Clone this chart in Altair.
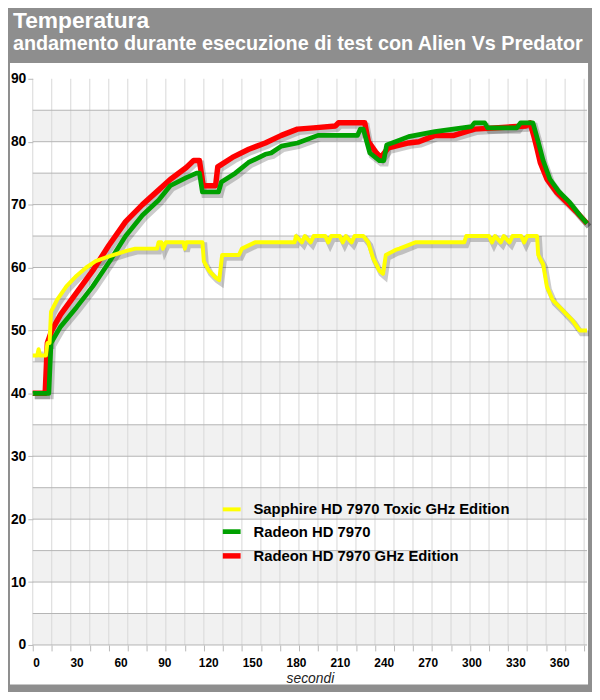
import altair as alt
import pandas as pd

S_YELLOW = "Sapphire HD 7970 Toxic GHz Edition"
S_GREEN = "Radeon HD 7970"
S_RED = "Radeon HD 7970 GHz Edition"

red_t = [0, 8.5, 10, 13, 19, 30, 41, 52, 63.5, 75, 86, 94, 105, 110, 114, 116.5, 125, 126.5,
         136.5, 147.7, 159, 170, 181, 192, 207, 209, 227, 229.5, 235, 238, 243, 248, 257, 264,
         275, 288, 302, 337, 340, 342.5, 344.7, 347, 351.5, 358, 365, 371.5, 379]
red_v = [40, 40, 48, 50, 52.5, 56, 59.5, 63.5, 67.3, 70, 72.3, 74, 75.9, 77, 77, 73, 73, 76,
         77.5, 78.8, 79.8, 81, 82, 82.2, 82.5, 83, 83, 80, 78.2, 77.5, 79, 79.3, 79.8, 80,
         81, 81, 82, 82.5, 83, 81, 79, 76.7, 74.1, 72, 70.4, 68.9, 67]

green_t = [0, 11, 12.5, 19, 30, 41, 52.6, 63.5, 75, 86, 94, 105, 112, 114, 116, 127, 129,
           138.5, 147.5, 159, 163, 170, 181, 195, 222, 224, 226, 230.5, 237, 240, 242, 248,
           257, 275, 300, 302, 309, 311, 331, 333.5, 342, 345.6, 349, 353.7, 360, 367, 374, 379]
green_v = [40, 40, 48, 50.6, 53.7, 57, 61, 65, 68.3, 70.7, 73, 74.3, 75, 75, 72, 72, 73.6,
           75, 76.7, 78, 78.2, 79.3, 79.8, 81, 81, 82, 82, 78.2, 77, 77, 79.5, 80,
           80.8, 81.6, 82.4, 83, 83, 82.2, 82.2, 83, 83, 80, 77, 74, 72, 70.4, 68.3, 67]

yellow_t = [0, 3, 4, 5, 9, 10, 11.5, 12.5, 16.5, 23, 30, 36.6, 43, 52.6, 63.5, 70, 85, 86,
            88, 89, 91, 103, 104, 105, 116, 117, 120.5, 125, 127.5, 129.5, 141, 143, 152, 179,
            180, 184, 186, 190, 192, 200, 202, 204, 210, 212, 214, 218, 220, 226, 229.4, 232.7,
            237, 239.5, 241.4, 248, 250.7, 261.6, 295, 296.4, 312, 314, 316, 320, 322, 326, 328,
            334, 336, 338, 344.8, 345.6, 349, 351.5, 355.6, 362.4, 369, 373.9, 379]
yellow_v = [46, 46, 47, 46, 46, 48, 48, 53, 54.8, 57, 58.7, 60, 61, 61.8, 62.6, 63, 63, 64,
            64, 63, 64, 64, 63, 64, 64, 61, 59.5, 58.4, 58, 62, 62, 63, 64, 64,
            65, 64, 65, 64, 65, 65, 64, 65, 65, 64, 65, 64, 65, 65, 64, 61.5,
            59.5, 59, 62, 62.8, 63, 64, 64, 65, 65, 64, 65, 64, 65, 64, 65,
            65, 64, 65, 65, 62, 60.5, 57, 54.8, 53.2, 51.6, 50, 50]

x_label_values = list(range(0, 361, 30))
x_grid_values = list(range(0, 379, 13))
y_label_values = list(range(0, 91, 10))
y_grid_values = list(range(0, 90, 5))
band_lo = list(range(0, 81, 10))

series_order = [S_YELLOW, S_GREEN, S_RED]
series_colors = ["#ffff00", "#00a000", "#ff0000"]
series_widths = [4, 5.5, 8]

W, H = 560, 572
X_MAX = 379
FONT = "Liberation Sans"

df = pd.concat([
    pd.DataFrame({"t": red_t, "temp": red_v, "series": S_RED, "k": 0}),
    pd.DataFrame({"t": green_t, "temp": green_v, "series": S_GREEN, "k": 1}),
    pd.DataFrame({"t": yellow_t, "temp": yellow_v, "series": S_YELLOW, "k": 2}),
], ignore_index=True)

x_scale = alt.Scale(domain=[0, X_MAX], nice=False, zero=False)
y_scale = alt.Scale(domain=[0, 90], nice=False)
color_scale = alt.Scale(domain=series_order, range=series_colors)
width_scale = alt.Scale(domain=series_order, range=series_widths)

y_axis = alt.Axis(
    values=y_label_values, ticks=True, tickSize=5, tickColor="#b8b8b8", domain=False,
    grid=False, title=None, labelFont=FONT, labelFontSize=14, labelFontWeight="bold",
    labelColor="black", labelPadding=2, zindex=1,
)

panel = alt.Chart(pd.DataFrame({"a": [0]})).mark_rect(fill="white").encode(
    x=alt.value(-23), x2=alt.value(W + 1), y=alt.value(-16), y2=alt.value(H + 40)
)

bands = alt.Chart(pd.DataFrame({"lo": band_lo, "hi": [b + 5 for b in band_lo]})).mark_rect(
    fill="#f1f1f1"
).encode(
    x=alt.value(0), x2=alt.value(W),
    y=alt.Y("lo:Q", scale=y_scale, axis=y_axis), y2="hi:Q"
)

vgrid = alt.Chart(pd.DataFrame({"g": x_grid_values})).mark_rule(color="#d8d8d8", strokeWidth=1).encode(
    x=alt.X("g:Q", scale=x_scale, axis=alt.Axis(
        values=x_grid_values, labels=False, ticks=True, tickSize=6, tickColor="#b8b8b8",
        domain=False, grid=False, title=None, orient="bottom", zindex=1))
)

hgrid = alt.Chart(pd.DataFrame({"h": y_grid_values})).mark_rule(color="#b4b4b4", strokeWidth=1).encode(
    y=alt.Y("h:Q", scale=y_scale, axis=y_axis)
)

shadow = alt.Chart(df).mark_line(color="black", opacity=0.2, strokeWidth=6, xOffset=2, yOffset=3).encode(
    x=alt.X("t:Q", scale=x_scale, axis=None),
    y=alt.Y("temp:Q", scale=y_scale, axis=y_axis),
    detail="series:N",
    order="t:Q",
)

legend = alt.Legend(
    orient="none", legendX=189, legendY=424, title=None, symbolType="stroke", symbolSize=324,
    labelFont=FONT, labelFontSize=15, labelFontWeight="bold", labelColor="black",
    labelOffset=10, rowPadding=3, labelLimit=0,
)

lines = alt.Chart(df).mark_line(strokeJoin="round").encode(
    x=alt.X("t:Q", scale=x_scale, axis=alt.Axis(
        values=x_label_values, ticks=False, domain=False, grid=False, title="secondi",
        labelFont=FONT, labelFontSize=12, labelFontWeight="bold", labelColor="black",
        labelPadding=13, titleFont=FONT, titleFontSize=14, titleFontStyle="italic",
        titleFontWeight="normal", titleColor="#222222", titlePadding=3, orient="bottom", zindex=1)),
    y=alt.Y("temp:Q", scale=y_scale, axis=y_axis),
    color=alt.Color("series:N", scale=color_scale, legend=legend),
    strokeWidth=alt.StrokeWidth("series:N", scale=width_scale, legend=legend),
    detail="k:N",
    order="t:Q",
)

chart = alt.layer(panel, bands, vgrid, hgrid, shadow, lines).resolve_axis(
    x="independent"
).properties(
    width=W, height=H,
    padding={"left": 25, "right": 5, "top": 68, "bottom": 44},
    autosize=alt.AutoSizeParams(type="none"),
    background="#8e8e8e",
    title=alt.Title(
        "Temperatura",
        subtitle="andamento durante esecuzione di test con Alien Vs Predator",
        anchor="start", frame="group", dx=-20, offset=9,
        color="white", subtitleColor="white", font=FONT, subtitleFont=FONT,
        fontSize=23, subtitleFontSize=20, fontWeight="bold", subtitleFontWeight="bold",
        subtitlePadding=1,
    ),
).configure_view(stroke=None)

chart.save("out.html", embed_options={"renderer": "svg", "actions": False})
